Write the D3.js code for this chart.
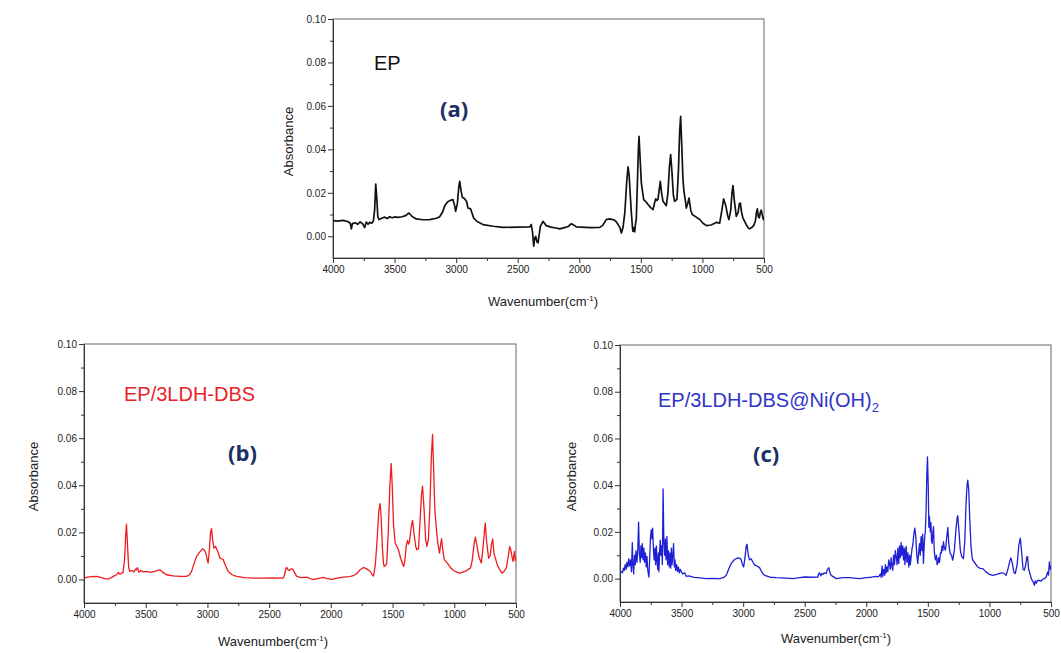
<!DOCTYPE html>
<html>
<head>
<meta charset="utf-8">
<script src="https://cdn.jsdelivr.net/npm/d3@7"></script>
<style>
  body { margin: 0; padding: 0; background: #fff; }
  svg { display: block; }
</style>
</head>
<body>
<div class="canvas"></div>
<script>
"use strict";
// FTIR spectra: [wavenumber, absorbance]

const yTicks = [0, 0.02, 0.04, 0.06, 0.08, 0.1];
const yMinor = [0.01, 0.03, 0.05, 0.07, 0.09];
const xTicks = [4000, 3500, 3000, 2500, 2000, 1500, 1000, 500];
const xMinor = [3750, 3250, 2750, 2250, 1750, 1250, 750];

const labelA = "EP";
const labelB = "EP/3LDH-DBS";
const labelC = "EP/3LDH-DBS@Ni(OH)";

const specEP = [
  [4000,0.0072],[3960,0.0070],[3920,0.0073],[3880,0.0068],[3860,0.0060],[3851,0.0034],[3842,0.0058],
  [3820,0.0062],[3800,0.0055],[3780,0.0066],[3760,0.0058],[3743,0.0040],[3730,0.0065],[3715,0.0055],
  [3702,0.0064],[3685,0.0060],[3672,0.0070],[3662,0.0120],[3653,0.0240],[3645,0.0180],[3636,0.0090],
  [3626,0.0077],[3600,0.0084],[3580,0.0088],[3560,0.0082],[3540,0.0090],[3520,0.0085],[3500,0.0089],
  [3470,0.0087],[3440,0.0090],[3410,0.0095],[3383,0.0107],[3355,0.0090],[3323,0.0080],[3270,0.0076],
  [3215,0.0077],[3160,0.0083],[3134,0.0090],[3110,0.0112],[3093,0.0140],[3070,0.0158],[3052,0.0164],
  [3026,0.0169],[3012,0.0140],[3004,0.0115],[2990,0.0150],[2978,0.0230],[2971,0.0253],[2960,0.0210],
  [2950,0.0180],[2931,0.0173],[2915,0.0160],[2904,0.0130],[2882,0.0126],[2870,0.0105],[2858,0.0084],
  [2830,0.0068],[2782,0.0054],[2700,0.0046],[2620,0.0041],[2500,0.0042],[2403,0.0043],[2390,0.0054],
  [2380,0.0020],[2370,-0.0046],[2362,-0.0010],[2354,0.0000],[2342,-0.0028],[2335,-0.0030],[2325,0.0010],
  [2316,0.0046],[2295,0.0069],[2268,0.0049],[2230,0.0042],[2190,0.0038],[2159,0.0034],[2120,0.0040],
  [2090,0.0045],[2064,0.0058],[2040,0.0050],[2024,0.0043],[1950,0.0041],[1900,0.0040],[1834,0.0041],
  [1810,0.0050],[1780,0.0077],[1755,0.0080],[1726,0.0077],[1705,0.0070],[1686,0.0055],[1670,0.0040],
  [1658,0.0015],[1650,0.0030],[1645,0.0040],[1630,0.0110],[1615,0.0250],[1604,0.0319],[1595,0.0280],
  [1585,0.0180],[1577,0.0107],[1568,0.0040],[1564,0.0023],[1557,0.0040],[1550,0.0020],[1543,0.0060],
  [1537,0.0080],[1528,0.0250],[1520,0.0400],[1515,0.0460],[1508,0.0380],[1496,0.0245],[1477,0.0169],
  [1460,0.0160],[1442,0.0146],[1420,0.0132],[1401,0.0123],[1390,0.0150],[1380,0.0172],[1370,0.0165],
  [1361,0.0170],[1352,0.0210],[1342,0.0253],[1332,0.0200],[1320,0.0161],[1305,0.0150],[1293,0.0141],
  [1280,0.0200],[1268,0.0320],[1258,0.0376],[1248,0.0300],[1236,0.0190],[1226,0.0161],[1207,0.0170],
  [1195,0.0300],[1185,0.0480],[1177,0.0552],[1168,0.0420],[1158,0.0260],[1150,0.0207],[1140,0.0170],
  [1131,0.0130],[1120,0.0150],[1109,0.0176],[1095,0.0120],[1082,0.0100],[1050,0.0088],[1022,0.0077],
  [995,0.0060],[968,0.0049],[930,0.0052],[900,0.0060],[887,0.0064],[860,0.0060],[845,0.0110],
  [828,0.0172],[810,0.0140],[795,0.0095],[785,0.0077],[770,0.0120],[760,0.0200],[752,0.0233],
  [742,0.0170],[725,0.0092],[710,0.0110],[700,0.0150],[692,0.0153],[682,0.0110],[671,0.0084],
  [650,0.0060],[630,0.0040],[617,0.0034],[600,0.0040],[583,0.0050],[570,0.0070],[560,0.0115],
  [554,0.0126],[546,0.0090],[538,0.0085],[530,0.0110],[522,0.0120],[515,0.0100],[505,0.0077],[500,0.0090]
];

const specLDH = [
  [4000,0.0006],[3970,0.0010],[3940,0.0012],[3900,0.0013],[3870,0.0010],[3840,0.0005],[3805,0.0001],
  [3780,0.0008],[3751,0.0016],[3735,0.0020],[3722,0.0030],[3711,0.0023],[3700,0.0025],[3684,0.0030],
  [3672,0.0080],[3663,0.0180],[3656,0.0235],[3648,0.0150],[3638,0.0050],[3629,0.0034],[3610,0.0038],
  [3595,0.0032],[3580,0.0045],[3575,0.0041],[3567,0.0050],[3555,0.0030],[3540,0.0038],[3520,0.0032],
  [3494,0.0034],[3460,0.0030],[3420,0.0035],[3386,0.0041],[3360,0.0030],[3332,0.0020],[3280,0.0015],
  [3220,0.0013],[3170,0.0013],[3145,0.0020],[3129,0.0034],[3110,0.0065],[3088,0.0098],[3065,0.0115],
  [3040,0.0130],[3025,0.0125],[3013,0.0112],[3000,0.0080],[2994,0.0070],[2985,0.0120],[2975,0.0200],
  [2967,0.0216],[2958,0.0170],[2948,0.0133],[2935,0.0140],[2926,0.0130],[2910,0.0110],[2899,0.0091],
  [2872,0.0084],[2855,0.0060],[2831,0.0034],[2800,0.0020],[2764,0.0013],[2700,0.0008],[2629,0.0006],
  [2550,0.0006],[2470,0.0007],[2385,0.0006],[2375,0.0020],[2365,0.0045],[2358,0.0051],[2345,0.0040],
  [2336,0.0038],[2322,0.0045],[2309,0.0044],[2295,0.0030],[2277,0.0013],[2240,0.0008],[2196,0.0010],
  [2165,0.0003],[2142,-0.0001],[2100,0.0005],[2061,0.0009],[2030,0.0004],[1993,0.0000],[1950,0.0006],
  [1900,0.0010],[1850,0.0012],[1817,0.0016],[1790,0.0025],[1765,0.0040],[1736,0.0051],[1710,0.0045],
  [1682,0.0035],[1665,0.0020],[1655,0.0014],[1640,0.0060],[1625,0.0170],[1612,0.0290],[1601,0.0322],
  [1592,0.0260],[1582,0.0130],[1574,0.0070],[1568,0.0055],[1555,0.0060],[1547,0.0070],[1535,0.0200],
  [1522,0.0400],[1511,0.0492],[1503,0.0400],[1492,0.0230],[1479,0.0155],[1465,0.0140],[1452,0.0126],
  [1435,0.0090],[1411,0.0055],[1400,0.0080],[1390,0.0140],[1379,0.0166],[1370,0.0150],[1363,0.0160],
  [1350,0.0220],[1338,0.0251],[1325,0.0190],[1312,0.0140],[1304,0.0126],[1290,0.0130],[1278,0.0240],
  [1266,0.0360],[1257,0.0396],[1245,0.0300],[1232,0.0170],[1222,0.0140],[1210,0.0170],[1198,0.0300],
  [1186,0.0520],[1176,0.0616],[1168,0.0480],[1158,0.0300],[1147,0.0226],[1135,0.0160],[1120,0.0112],
  [1110,0.0150],[1103,0.0173],[1092,0.0120],[1081,0.0084],[1050,0.0065],[1030,0.0050],[1006,0.0038],
  [975,0.0030],[952,0.0027],[910,0.0035],[880,0.0045],[869,0.0048],[855,0.0080],[840,0.0150],
  [829,0.0180],[815,0.0140],[800,0.0095],[781,0.0070],[768,0.0130],[755,0.0210],[749,0.0240],
  [738,0.0160],[722,0.0090],[710,0.0100],[698,0.0150],[689,0.0172],[678,0.0110],[667,0.0090],
  [650,0.0060],[630,0.0040],[613,0.0027],[595,0.0035],[578,0.0050],[565,0.0090],[551,0.0140],
  [540,0.0120],[530,0.0090],[524,0.0077],[518,0.0100],[513,0.0119],[505,0.0080],[500,0.0095]
];

const specNi = [
  [4000,0.0022],[3990,0.0030],[3980,0.0025],[3972,0.0045],[3965,0.0035],[3958,0.0060],[3950,0.0040],
  [3944,0.0070],[3936,0.0050],[3929,0.0085],[3922,0.0055],[3914,0.0080],[3907,0.0030],[3900,0.0154],
  [3895,0.0060],[3889,0.0020],[3882,0.0100],[3876,0.0060],[3870,0.0120],[3862,0.0070],[3855,0.0130],
  [3849,0.0242],[3843,0.0110],[3836,0.0070],[3830,0.0140],[3824,0.0090],[3819,0.0150],[3812,0.0080],
  [3806,0.0130],[3800,0.0070],[3793,0.0110],[3787,0.0050],[3781,0.0095],[3775,0.0040],[3770,0.0020],
  [3765,0.0007],[3758,0.0100],[3752,0.0180],[3746,0.0209],[3740,0.0170],[3735,0.0216],[3728,0.0120],
  [3722,0.0080],[3716,0.0130],[3710,0.0060],[3705,0.0140],[3700,0.0090],[3694,0.0040],[3688,0.0110],
  [3684,0.0030],[3678,0.0120],[3673,0.0165],[3668,0.0100],[3662,0.0140],[3656,0.0060],[3650,0.0384],
  [3644,0.0160],[3638,0.0100],[3632,0.0170],[3626,0.0080],[3619,0.0180],[3613,0.0060],[3607,0.0120],
  [3600,0.0050],[3594,0.0110],[3588,0.0045],[3583,0.0130],[3577,0.0060],[3571,0.0100],[3565,0.0150],
  [3559,0.0050],[3553,0.0080],[3548,0.0035],[3540,0.0060],[3533,0.0030],[3526,0.0050],[3518,0.0025],
  [3510,0.0040],[3502,0.0029],[3490,0.0020],[3475,0.0025],[3462,0.0010],[3440,0.0012],[3400,0.0005],
  [3350,0.0003],[3300,0.0000],[3250,0.0001],[3191,0.0000],[3160,0.0004],[3137,0.0014],[3118,0.0040],
  [3097,0.0065],[3070,0.0082],[3042,0.0089],[3025,0.0087],[3016,0.0080],[3005,0.0060],[2996,0.0050],
  [2985,0.0090],[2975,0.0140],[2969,0.0147],[2958,0.0100],[2948,0.0080],[2935,0.0085],[2920,0.0070],
  [2907,0.0058],[2890,0.0055],[2867,0.0047],[2845,0.0025],[2826,0.0014],[2780,0.0006],[2731,0.0004],
  [2650,0.0002],[2596,0.0000],[2540,0.0004],[2501,0.0007],[2450,0.0006],[2393,0.0007],[2388,0.0020],
  [2380,0.0025],[2370,0.0012],[2360,0.0022],[2353,0.0018],[2340,0.0025],[2326,0.0022],[2315,0.0040],
  [2304,0.0047],[2295,0.0025],[2285,0.0014],[2244,0.0000],[2190,0.0004],[2136,0.0004],[2100,0.0002],
  [2055,0.0000],[2000,0.0004],[1960,0.0006],[1920,0.0010],[1900,0.0008],[1885,0.0020],[1879,0.0005],
  [1872,0.0055],[1866,0.0010],[1858,0.0040],[1850,0.0015],[1845,0.0060],[1839,0.0025],[1832,0.0050],
  [1825,0.0030],[1818,0.0080],[1812,0.0065],[1805,0.0040],[1798,0.0090],[1791,0.0050],[1785,0.0036],
  [1778,0.0100],[1771,0.0060],[1764,0.0120],[1757,0.0094],[1750,0.0060],[1743,0.0130],[1736,0.0065],
  [1730,0.0140],[1723,0.0090],[1717,0.0154],[1711,0.0100],[1704,0.0140],[1698,0.0080],[1692,0.0130],
  [1686,0.0060],[1680,0.0120],[1676,0.0138],[1670,0.0070],[1662,0.0110],[1655,0.0050],[1648,0.0100],
  [1642,0.0060],[1636,0.0092],[1628,0.0130],[1622,0.0144],[1614,0.0190],[1606,0.0216],[1598,0.0180],
  [1590,0.0100],[1582,0.0065],[1575,0.0110],[1568,0.0150],[1562,0.0100],[1555,0.0180],[1548,0.0120],
  [1542,0.0190],[1536,0.0065],[1528,0.0160],[1520,0.0209],[1514,0.0300],[1508,0.0450],[1503,0.0521],
  [1497,0.0400],[1492,0.0220],[1487,0.0266],[1480,0.0200],[1475,0.0240],[1470,0.0160],[1465,0.0151],
  [1459,0.0200],[1454,0.0223],[1448,0.0120],[1442,0.0090],[1438,0.0080],[1430,0.0100],[1425,0.0060],
  [1419,0.0065],[1412,0.0090],[1405,0.0070],[1398,0.0110],[1392,0.0108],[1385,0.0140],[1379,0.0120],
  [1373,0.0158],[1366,0.0130],[1357,0.0122],[1348,0.0170],[1338,0.0219],[1330,0.0150],[1319,0.0108],
  [1308,0.0100],[1298,0.0079],[1285,0.0120],[1272,0.0210],[1262,0.0260],[1257,0.0269],[1247,0.0200],
  [1236,0.0120],[1225,0.0094],[1211,0.0086],[1200,0.0160],[1190,0.0320],[1182,0.0400],[1176,0.0422],
  [1168,0.0380],[1160,0.0260],[1150,0.0140],[1140,0.0090],[1135,0.0079],[1120,0.0068],[1095,0.0050],
  [1075,0.0044],[1054,0.0043],[1030,0.0030],[1000,0.0018],[973,0.0014],[940,0.0018],[910,0.0024],
  [892,0.0025],[875,0.0020],[865,0.0014],[850,0.0040],[835,0.0075],[825,0.0089],[812,0.0060],
  [800,0.0025],[790,0.0022],[775,0.0060],[762,0.0140],[749,0.0173],[738,0.0110],[727,0.0040],
  [717,0.0036],[705,0.0060],[697,0.0092],[690,0.0094],[682,0.0040],[671,0.0022],[660,0.0000],
  [650,-0.0010],[640,-0.0020],[635,-0.0029],[628,-0.0010],[620,-0.0020],[610,-0.0008],[595,-0.0007],
  [580,-0.0010],[565,-0.0002],[554,0.0000],[540,0.0006],[527,0.0029],[520,0.0015],[513,0.0072],
  [507,0.0040],[500,0.0055]
];

const svg = d3
  .select(".canvas")
  .append("svg")
  .attr("width", 1061)
  .attr("height", 653)
  .style("background-color", "#ffffff");

const axisFont = "'Liberation Sans', Arial, sans-serif";

function drawPanel(p) {
  const g = svg.append("g").attr("transform", `translate(${p.left},${p.top})`);
  const w = p.width;
  const h = p.height;

  const x = d3.scaleLinear().domain([4000, 500]).range([0, w]);
  const y = d3.scaleLinear().domain([-0.01, 0.1]).range([h, 0]);

  // frame
  g.append("rect")
    .attr("width", w)
    .attr("height", h)
    .attr("fill", "none")
    .attr("stroke", "#666")
    .attr("stroke-width", 1);

  // minor ticks first
  g.append("g")
    .attr("transform", `translate(0,${h})`)
    .call(d3.axisBottom(x).tickValues(xMinor).tickSize(3).tickFormat(""))
    .call((a) => a.select(".domain").remove());
  g.append("g")
    .call(d3.axisLeft(y).tickValues(yMinor).tickSize(3).tickFormat(""))
    .call((a) => a.select(".domain").remove());

  const xAxis = g
    .append("g")
    .attr("transform", `translate(0,${h})`)
    .call(d3.axisBottom(x).tickValues(xTicks).tickSize(5).tickPadding(3).tickSizeOuter(0).tickFormat(d3.format("d")));
  const yAxis = g
    .append("g")
    .call(d3.axisLeft(y).tickValues(yTicks).tickSize(5).tickPadding(2).tickSizeOuter(0).tickFormat(d3.format(".2f")));

  [xAxis, yAxis].forEach((a) => {
    a.select(".domain").attr("stroke", "#333");
    a.selectAll("text")
      .style("font-family", axisFont)
      .style("font-size", "10px")
      .attr("fill", "#222");
  });
  g.selectAll(".tick line").attr("stroke", "#333");

  // spectrum
  const clipId = "clip-" + p.id;
  g.append("clipPath")
    .attr("id", clipId)
    .append("rect")
    .attr("width", w)
    .attr("height", h);

  const line = d3
    .line()
    .x((d) => x(d[0]))
    .y((d) => y(d[1]));

  g.append("path")
    .datum(p.data)
    .attr("clip-path", `url(#${clipId})`)
    .attr("fill", "none")
    .attr("stroke", p.color)
    .attr("stroke-width", p.strokeWidth)
    .attr("stroke-linejoin", "round")
    .attr("d", line);

  // axis titles
  svg.append("text")
    .attr("transform", `translate(${p.yTitleX},${p.top + h / 2 + 3}) rotate(-90)`)
    .attr("text-anchor", "middle")
    .attr("fill", "#222")
    .style("font-family", axisFont)
    .style("font-size", "13px")
    .text("Absorbance");

  const xt = svg.append("text")
    .attr("x", p.xTitleX)
    .attr("y", p.xTitleY)
    .attr("text-anchor", "middle")
    .attr("fill", "#222")
    .style("font-family", axisFont)
    .style("font-size", "13px");
  xt.append("tspan").text("Wavenumber(cm");
  xt.append("tspan").attr("dy", -5).style("font-size", "8px").text("-1");
  xt.append("tspan").attr("dy", 5).text(")");

  // sample name
  const nm = svg.append("text")
    .attr("x", p.nameX)
    .attr("y", p.nameY)
    .attr("fill", p.nameColor)
    .style("font-family", axisFont)
    .style("font-size", p.nameSize + "px")
    .text(p.name);
  if (p.sub) {
    nm.append("tspan").attr("dy", 5).style("font-size", "13px").text(p.sub);
  }

  // panel letter
  svg.append("text")
    .attr("x", p.letterX)
    .attr("y", p.letterY)
    .attr("fill", "#1c2f66")
    .style("font-family", "'Open Sans', sans-serif")
    .style("font-weight", 700)
    .style("font-size", "22px")
    .text(p.letter);
}

drawPanel({
  id: "a", left: 333, top: 19, width: 431, height: 239,
  data: specEP, color: "#111111", strokeWidth: 1.7,
  yTitleX: 293, xTitleX: 543, xTitleY: 306,
  name: labelA, nameX: 374, nameY: 70, nameColor: "#111111", nameSize: 20,
  letter: "(a)", letterX: 440, letterY: 117
});

drawPanel({
  id: "b", left: 84, top: 344, width: 432, height: 259,
  data: specLDH, color: "#ee1c1c", strokeWidth: 1.3,
  yTitleX: 38, xTitleX: 273, xTitleY: 646,
  name: labelB, nameX: 124, nameY: 401, nameColor: "#e8242a", nameSize: 20,
  letter: "(b)", letterX: 228, letterY: 461
});

drawPanel({
  id: "c", left: 620, top: 345, width: 431, height: 257,
  data: specNi, color: "#1f1fd6", strokeWidth: 1.3,
  yTitleX: 576, xTitleX: 836, xTitleY: 643,
  name: labelC, sub: "2", nameX: 658, nameY: 407, nameColor: "#2f35c8", nameSize: 20,
  letter: "(c)", letterX: 753, letterY: 462
});
</script>
</body>
</html>
